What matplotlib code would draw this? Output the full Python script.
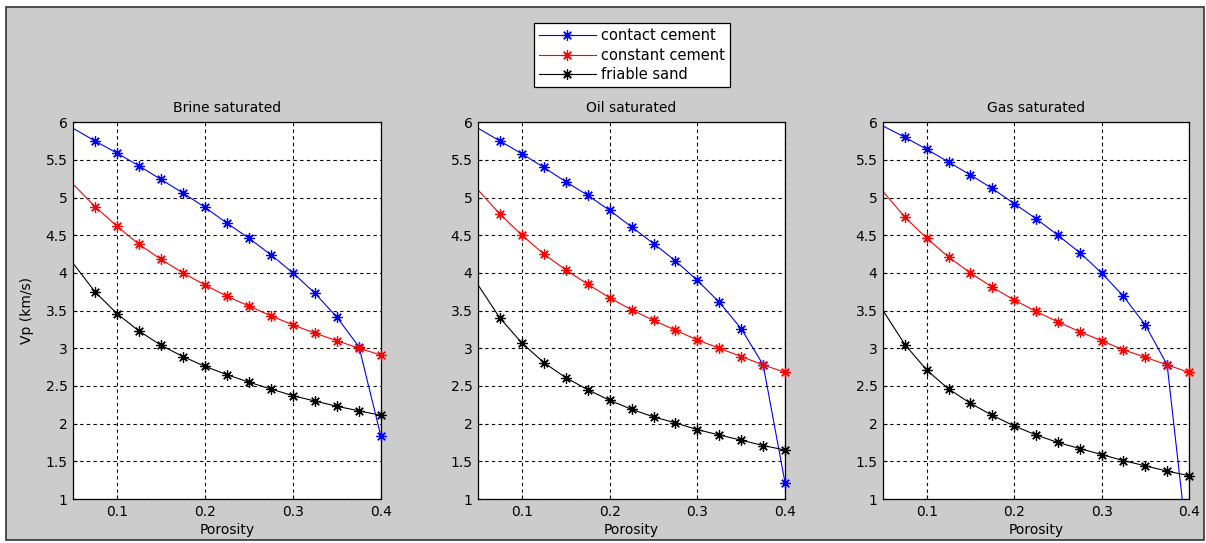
import matplotlib

matplotlib.use("Agg")
import matplotlib.pyplot as plt
from matplotlib.lines import Line2D
from matplotlib.patches import Rectangle

plt.rcParams["font.family"] = ["DejaVu Sans"]

# Porosity samples (markers from 0.075 on, line starts at 0.05)
porosity = [0.05, 0.075, 0.1, 0.125, 0.15, 0.175, 0.2, 0.225, 0.25,
            0.275, 0.3, 0.325, 0.35, 0.375, 0.4]

panel_titles = ["Brine saturated", "Oil saturated", "Gas saturated"]
model_names = ["contact cement", "constant cement", "friable sand"]

# Brine saturated Vp (km/s)
brine_contact = [5.92, 5.75, 5.59, 5.42, 5.24, 5.06, 4.87, 4.66, 4.46, 4.24, 4.00, 3.73, 3.41, 3.02, 1.83]
brine_constant = [5.18, 4.88, 4.62, 4.38, 4.18, 4.00, 3.84, 3.69, 3.56, 3.43, 3.31, 3.20, 3.10, 3.00, 2.91]
brine_friable = [4.13, 3.75, 3.46, 3.23, 3.04, 2.89, 2.76, 2.65, 2.55, 2.46, 2.37, 2.30, 2.23, 2.17, 2.11]

# Oil saturated Vp (km/s)
oil_contact = [5.92, 5.75, 5.58, 5.40, 5.21, 5.03, 4.83, 4.61, 4.39, 4.16, 3.90, 3.61, 3.26, 2.78, 1.21]
oil_constant = [5.10, 4.78, 4.50, 4.25, 4.04, 3.85, 3.67, 3.51, 3.37, 3.24, 3.11, 3.00, 2.89, 2.78, 2.68]
oil_friable = [3.84, 3.40, 3.07, 2.81, 2.61, 2.45, 2.31, 2.19, 2.09, 2.01, 1.92, 1.85, 1.78, 1.71, 1.65]

# Gas saturated Vp (km/s)
gas_contact = [5.95, 5.80, 5.64, 5.47, 5.30, 5.12, 4.92, 4.72, 4.50, 4.27, 4.00, 3.69, 3.31, 2.78, 0.20]
gas_constant = [5.08, 4.74, 4.46, 4.21, 4.00, 3.81, 3.64, 3.49, 3.35, 3.22, 3.10, 2.98, 2.88, 2.78, 2.68]
gas_friable = [3.50, 3.05, 2.71, 2.46, 2.27, 2.11, 1.97, 1.85, 1.75, 1.67, 1.59, 1.51, 1.44, 1.37, 1.31]

panels = [
    (brine_contact, brine_constant, brine_friable),
    (oil_contact, oil_constant, oil_friable),
    (gas_contact, gas_constant, gas_friable),
]
colors = ["#0000ff", "#ff0000", "#000000"]

GRAY = "#cccccc"
fig = plt.figure(figsize=(12.06, 5.43), dpi=100)
fig.patch.set_facecolor("white")

# grey MATLAB-like window with dark border
fig.add_artist(Rectangle((0.005, 0.0055), 0.993, 0.9815, transform=fig.transFigure,
                         facecolor=GRAY, edgecolor="#333333", linewidth=1.2, zorder=-10))

lefts = [0.0605, 0.3964, 0.7322]
widths = [0.2554, 0.2546, 0.2537]
bottom, height = 0.081, 0.694
star = (8, 2, 0)
YMIN, YMAX = 1, 6

for i, (series, title) in enumerate(zip(panels, panel_titles)):
    ax = fig.add_axes([lefts[i], bottom, widths[i], height])
    ax.set_facecolor("white")
    for vals, col in zip(series, colors):
        # line, clipped to the axes
        ax.plot(porosity, vals, "-", color=col, linewidth=0.8)
        # markers, not clipped (MATLAB draws them over the frame)
        mx = [x for x, y in zip(porosity[1:], vals[1:]) if YMIN <= y <= YMAX]
        my = [y for y in vals[1:] if YMIN <= y <= YMAX]
        ax.plot(mx, my, linestyle="none", marker=star, markersize=7.5,
                markeredgewidth=0.9, color=col, clip_on=False, zorder=3)
    ax.set_xlim(0.05, 0.4)
    ax.set_ylim(YMIN, YMAX)
    ax.set_xticks([0.1, 0.2, 0.3, 0.4])
    ax.set_yticks([1, 1.5, 2, 2.5, 3, 3.5, 4, 4.5, 5, 5.5, 6])
    ax.set_yticklabels(["1", "1.5", "2", "2.5", "3", "3.5", "4", "4.5", "5", "5.5", "6"])
    ax.grid(True, color="black", linestyle=(0, (3, 3)), linewidth=0.8)
    ax.tick_params(direction="in", length=3, labelsize=10, colors="black", pad=4)
    for sp in ax.spines.values():
        sp.set_linewidth(0.9)
    ax.set_title(title, fontsize=10, pad=7)
    ax.set_xlabel("Porosity", fontsize=10, labelpad=3)
    if i == 0:
        ax.set_ylabel("Vp (km/s)", fontsize=10, labelpad=8)

handles = [Line2D([], [], color=c, linewidth=0.8, marker=star, markersize=7.5,
                  markeredgewidth=0.9) for c in colors]
leg = fig.legend(handles=handles, labels=model_names, loc="upper center",
                 bbox_to_anchor=(632 / 1206, 1 - 16 / 543), fontsize=10.5,
                 fancybox=False, framealpha=1.0, edgecolor="black",
                 handlelength=3.9, borderpad=0.35, labelspacing=0.3,
                 handletextpad=0.4)
leg.get_frame().set_linewidth(0.9)

fig.savefig("out.png", dpi=100, facecolor=fig.get_facecolor())
